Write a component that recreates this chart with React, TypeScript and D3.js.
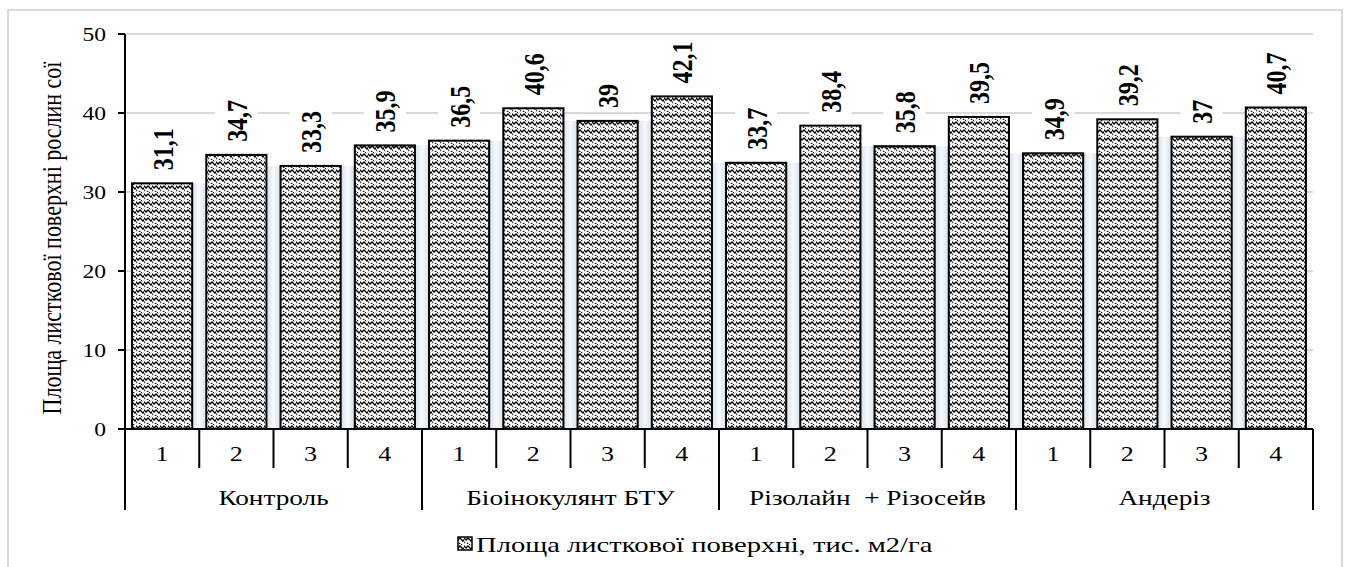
import React from 'react';
import * as d3 from 'd3';

const groups = ['Контроль', 'Біоінокулянт БТУ', 'Різолайн  + Різосейв', 'Андеріз'];
const subLabels = ['1', '2', '3', '4'];
const values = [31.1, 34.7, 33.3, 35.9, 36.5, 40.6, 39, 42.1, 33.7, 38.4, 35.8, 39.5, 34.9, 39.2, 37, 40.7];
const yTicks = [0, 10, 20, 30, 40, 50];
const seriesName = 'Площа листкової поверхні, тис. м2/га';
const yTitle = 'Площа листкової поверхні рослин сої';

const W = 1348;
const H = 567;
const left = 125;
const right = 1313;
const top = 34;
const bottom = 429;
const font = 'Liberation Serif';
const sx = 1.24; // the original picture is stretched sideways

const fmt = (v: number) => String(v).replace('.', ',');

const App: React.FC = () => {
  const idx = values.map((_, i) => i);
  const x = d3.scaleBand<number>().domain(idx).range([left, right]).paddingInner(0.19).paddingOuter(0.095);
  const step = x.step();
  const y = d3.scaleLinear().domain([0, 50]).range([bottom, top]);
  const labelSize = 24;

  return (
    <svg width={W} height={H} style={{ position: 'absolute', left: 0, top: 0 }}>
      <defs>
        <pattern id="weave" width="8" height="8" patternUnits="userSpaceOnUse">
          <rect width="8" height="8" fill="#fff" />
          <path d="M-1 1 L2 4 L4 2 L7 5 L9 3" stroke="#000" strokeWidth="1.5" fill="none" />
          <path d="M-1 5 L1 7 M3 7 L5 9" stroke="#222" strokeWidth="1.3" fill="none" />
          <rect x="5" y="0" width="1.2" height="1.2" fill="#000" />
          <rect x="0" y="6" width="1" height="1" fill="#444" />
        </pattern>
        <linearGradient id="glow" x1="0" x2="1">
          <stop offset="0" stopColor="#d8e0ea" />
          <stop offset="0.5" stopColor="#f7f9fb" />
          <stop offset="1" stopColor="#d8e0ea" />
        </linearGradient>
      </defs>
      <rect x={0} y={0} width={W} height={H} fill="#fff" />
      <rect x={8} y={10} width={1334} height={H} fill="#fff" stroke="#d9d9d9" strokeWidth={2} />

      {/* gridlines */}
      {yTicks.filter((t) => t > 0).map((t) => (
        <line key={t} x1={left} x2={right} y1={y(t)} y2={y(t)} stroke="#d9d9d9" strokeWidth={2} />
      ))}

      {/* soft shadow in gaps between bars */}
      {idx.slice(0, -1).map((i) => {
        const gx = (x(i) as number) + x.bandwidth();
        const gw = (x(i + 1) as number) - gx;
        const m = Math.min(values[i], values[i + 1]);
        return <rect key={'g' + i} x={gx} y={y(m)} width={gw} height={bottom - y(m)} fill="url(#glow)" />;
      })}

      {/* bars */}
      {values.map((v, i) => (
        <rect
          key={i}
          x={x(i)}
          y={y(v)}
          width={x.bandwidth()}
          height={bottom - y(v)}
          fill="url(#weave)"
          stroke="#000"
          strokeWidth={2}
        />
      ))}

      {/* value labels */}
      {values.map((v, i) => {
        const cx = (x(i) as number) + x.bandwidth() / 2;
        const ty = y(v) - 13;
        const s = fmt(v);
        const len = s.split('').reduce((a, c) => a + (c === ',' ? 0.25 : 0.5), 0) * labelSize;
        return (
          <g key={'l' + i} transform={`translate(${cx},${ty}) scale(${sx},1) rotate(-90)`}>
            <rect x={-4} y={-17} width={len + 8} height={34} fill="#fff" />
            <text x={0} y={0} dy="0.35em" fontFamily={font} fontWeight="bold" fontSize={labelSize} fill="#000">
              {s}
            </text>
          </g>
        );
      })}

      {/* y axis */}
      <line x1={left} x2={left} y1={top} y2={bottom} stroke="#000" strokeWidth={2} />
      {yTicks.map((t) => (
        <g key={'t' + t}>
          <line x1={left - 7} x2={left} y1={y(t)} y2={y(t)} stroke="#000" strokeWidth={2} />
          <g transform={`translate(${left - 19},${y(t)}) scale(${sx},1)`}>
            <text dy="0.35em" textAnchor="end" fontFamily={font} fontSize={19} fill="#000">
              {t}
            </text>
          </g>
        </g>
      ))}
      <g transform={`translate(61,${238}) scale(${sx},1) rotate(-90)`}>
        <text textAnchor="middle" fontFamily={font} fontSize={22} fill="#000">
          {yTitle}
        </text>
      </g>

      {/* x axis */}
      <line x1={left - 7} x2={right} y1={bottom} y2={bottom} stroke="#000" strokeWidth={2} />
      {idx.map((i) => {
        const x0 = left + i * step;
        const isGroupEdge = i % 4 === 0;
        return (
          <g key={'x' + i}>
            <line x1={x0} x2={x0} y1={bottom} y2={isGroupEdge ? 510 : 468} stroke="#000" strokeWidth={2} />
            <g transform={`translate(${x0 + step / 2},${454}) scale(${sx},1)`}>
              <text dy="0.35em" textAnchor="middle" fontFamily={font} fontSize={21} fill="#000">
                {subLabels[i % 4]}
              </text>
            </g>
          </g>
        );
      })}
      <line x1={right} x2={right} y1={bottom} y2={510} stroke="#000" strokeWidth={2} />
      {groups.map((g, gi) => (
        <g key={g} transform={`translate(${left + (gi * 4 + 2) * step},${497}) scale(${sx},1)`}>
          <text dy="0.35em" textAnchor="middle" fontFamily={font} fontSize={22} fill="#000" style={{ whiteSpace: 'pre' }}>
            {g}
          </text>
        </g>
      ))}

      {/* legend */}
      <rect x={458} y={537} width={14} height={13} fill="url(#weave)" stroke="#000" strokeWidth={1.5} />
      <g transform={`translate(476,${544}) scale(1.3,1)`}>
        <text dy="0.35em" fontFamily={font} fontSize={22} fill="#000">
          {seriesName}
        </text>
      </g>
    </svg>
  );
};

export default App;
